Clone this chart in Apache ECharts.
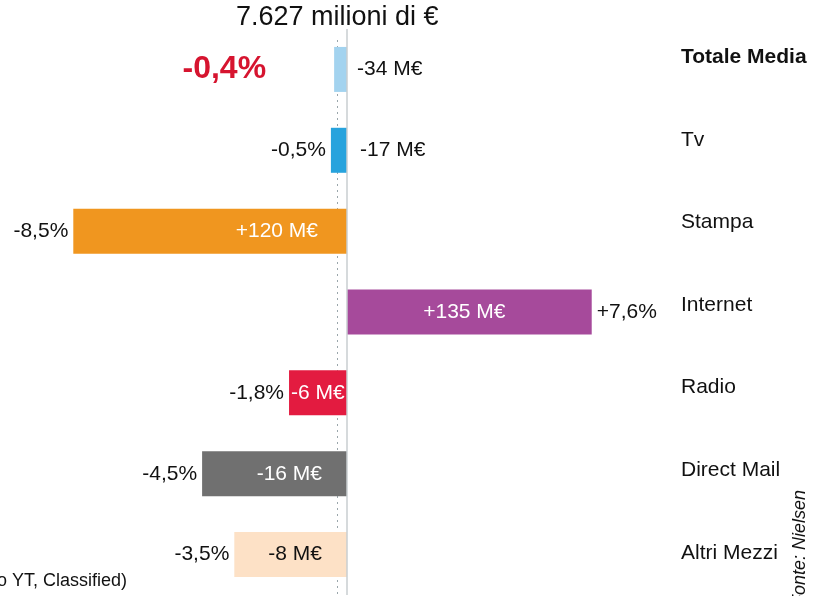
<!DOCTYPE html>
<html>
<head>
<meta charset="utf-8">
<script src="https://cdn.jsdelivr.net/npm/echarts@6/dist/echarts.min.js"></script>
<style>
html,body{margin:0;padding:0;background:#fff;}
#c{width:813px;height:596px;}
</style>
</head>
<body>
<div id="c"></div>
<script>
// ---- data ----
const categories = ['Totale Media', 'Tv', 'Stampa', 'Internet', 'Radio', 'Direct Mail', 'Altri Mezzi'];
const pctChange = [-0.4, -0.5, -8.5, 7.6, -1.8, -4.5, -3.5];
const meurChange = [-34, -17, 120, 135, -6, -16, -8];
const totalLabel = '7.627 milioni di €';

// ---- styles ----
const barColors = ['#a3d3ef', '#27a3dd', '#f0961f', '#a64a9b', '#e31b40', '#707070', '#fde1c6'];
const pctLabelStyles = [
  {position: 'left', distance: 68, fontSize: 32, fontWeight: 'bold', color: '#d6142f'},
  {}, {}, {}, {}, {}, {}
];
const meurLabelStyles = [
  {position: 'right', distance: 10, color: '#111'},
  {position: 'right', distance: 13, color: '#111'},
  {position: 'insideRight', distance: 29, color: '#fff'},
  {position: 'inside', offset: [-5, 0], color: '#fff'},
  {position: 'insideLeft', distance: 2, color: '#fff'},
  {position: 'insideRight', distance: 25, color: '#fff'},
  {position: 'insideRight', distance: 25, color: '#111'}
];

const FONT = 'Liberation Sans, Arial, Helvetica, sans-serif';

function fmtPct(v) {
  return (v > 0 ? '+' : '') + v.toFixed(1).replace('.', ',') + '%';
}
function fmtMeur(v) {
  return (v > 0 ? '+' : '') + v + ' M€';
}

const pctData = pctChange.map((v, i) => ({
  value: v,
  itemStyle: {color: barColors[i]},
  label: Object.assign({
    show: true,
    position: v < 0 ? 'left' : 'right',
    distance: 5,
    fontSize: 21,
    color: '#111',
    fontFamily: FONT,
    formatter: p => fmtPct(pctChange[p.dataIndex])
  }, pctLabelStyles[i])
}));

const meurData = pctChange.map((v, i) => ({
  value: v,
  label: Object.assign({
    show: true,
    fontSize: 21,
    fontFamily: FONT,
    formatter: p => fmtMeur(meurChange[p.dataIndex])
  }, meurLabelStyles[i])
}));

const chart = echarts.init(document.getElementById('c'), null, {renderer: 'canvas'});

chart.setOption({
  animation: false,
  backgroundColor: '#ffffff',
  textStyle: {fontFamily: FONT},
  title: {
    text: totalLabel,
    left: 236,
    top: 4,
    padding: 0,
    textStyle: {fontSize: 27, fontWeight: 'normal', color: '#111', fontFamily: FONT}
  },
  grid: [
    {left: 25, right: 144, top: 29, height: 566},
    {left: 25, right: 144, top: 16, height: 578}
  ],
  xAxis: [
    {type: 'value', gridIndex: 0, min: -10, max: 10, show: false},
    {type: 'value', gridIndex: 1, min: -10, max: 10, show: false}
  ],
  yAxis: [
    {type: 'category', gridIndex: 0, data: categories, inverse: true, show: false},
    {
      type: 'category', gridIndex: 1, data: categories, inverse: true, position: 'right',
      axisLine: {show: false}, axisTick: {show: false}, splitLine: {show: false},
      axisLabel: {
        margin: 12, align: 'left', fontSize: 21, color: '#111', fontFamily: FONT,
        formatter: (v, i) => i === 0 ? '{b|' + v + '}' : v,
        rich: {b: {fontWeight: 'bold', fontSize: 21, color: '#111', fontFamily: FONT}}
      }
    }
  ],
  graphic: [
    {
      type: 'line', z: 1, silent: true,
      shape: {x1: 337.5, y1: 40, x2: 337.5, y2: 596},
      style: {stroke: '#9aa6ab', lineWidth: 1, lineDash: [2, 4]}
    },
    {
      type: 'text', silent: true,
      x: 127, y: 581,
      style: {
        text: '(escluso YT, Classified)', fontSize: 18, fill: '#111',
        fontFamily: FONT, textAlign: 'right', textVerticalAlign: 'middle'
      }
    },
    {
      type: 'text', silent: true,
      x: 809, y: 490, rotation: Math.PI / 2,
      style: {
        text: 'Fonte: Nielsen', fontSize: 18, fontStyle: 'italic', fill: '#111',
        fontFamily: FONT, textAlign: 'right', textVerticalAlign: 'bottom'
      }
    }
  ],
  series: [
    {
      type: 'bar', name: 'pct', xAxisIndex: 0, yAxisIndex: 0,
      barWidth: 45, barGap: '-100%',
      data: pctData,
      markLine: {
        silent: true, symbol: 'none',
        label: {show: false},
        lineStyle: {color: '#c9ced1', type: 'solid', width: 1.5},
        data: [{xAxis: 0}]
      }
    },
    {
      type: 'bar', name: 'meur', xAxisIndex: 0, yAxisIndex: 0,
      barWidth: 45, barGap: '-100%',
      itemStyle: {color: 'rgba(0,0,0,0)'},
      data: meurData
    }
  ]
});
</script>
</body>
</html>
